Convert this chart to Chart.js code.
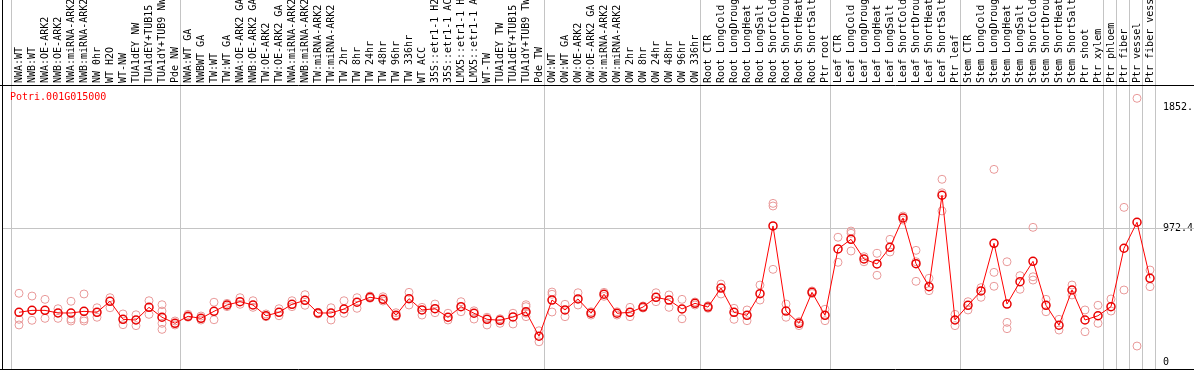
<!DOCTYPE html>
<html>
<head>
<meta charset="utf-8">
<script src="https://cdn.jsdelivr.net/npm/chart.js"></script>
<style>
    html, body { margin: 0; padding: 0; background: #fff; }
    #wrap { width: 1194px; height: 370px; }
</style>
</head>
<body>
<div id="wrap"><canvas id="expression-chart" width="1194" height="370"></canvas></div>
<script>
// Gene shown in the plot
const geneId = 'Potri.001G015000';

// Sample names (x axis, drawn rotated along the top)
const sampleLabels = [
    'NWA:WT', 'NWB:WT', 'NWA:OE-ARK2', 'NWB:OE-ARK2', 'NWA:miRNA-ARK2', 'NWB:miRNA-ARK2',
    'NW 0hr', 'WT H2O', 'WT-NW', 'TUA1dEY NW', 'TUA1dEY+TUB15', 'TUA1dY+TUB9 NW', 'Pde NW',
    'NWA:WT GA', 'NWBWT GA', 'TW:WT', 'TW:WT GA', 'NWA:OE-ARK2 GA', 'NWB:OE-ARK2 GA',
    'TW:OE-ARK2', 'TW:OE-ARK2 GA', 'NWA:miRNA-ARK2', 'NWB:miRNA-ARK2', 'TW:miRNA-ARK2', 'TW:miRNA-ARK2',
    'TW 2hr', 'TW 8hr', 'TW 24hr', 'TW 48hr', 'TW 96hr', 'TW 336hr', 'WT ACC',
    '35S::etr1-1 H2O', '35S::etr1-1 ACC', 'LMX5::etr1-1 H2O', 'LMX5::etr1-1 ACC',
    'WT-TW', 'TUA1dEY TW', 'TUA1dEY+TUB15', 'TUA1dY+TUB9 TW', 'Pde TW',
    'OW:WT', 'OW:WT GA', 'OW:OE-ARK2', 'OW:OE-ARK2 GA', 'OW:miRNA-ARK2', 'OW:miRNA-ARK2',
    'OW 2hr', 'OW 8hr', 'OW 24hr', 'OW 48hr', 'OW 96hr', 'OW 336hr',
    'Root CTR', 'Root LongCold', 'Root LongDrought', 'Root LongHeat', 'Root LongSalt',
    'Root ShortCold', 'Root ShortDrought', 'Root ShortHeat', 'Root ShortSalt', 'Ptr root',
    'Leaf CTR', 'Leaf LongCold', 'Leaf LongDrought', 'Leaf LongHeat', 'Leaf LongSalt',
    'Leaf ShortCold', 'Leaf ShortDrought', 'Leaf ShortHeat', 'Leaf ShortSalt', 'Ptr leaf',
    'Stem CTR', 'Stem LongCold', 'Stem LongDrought', 'Stem LongHeat', 'Stem LongSalt',
    'Stem ShortCold', 'Stem ShortDrought', 'Stem ShortHeat', 'Stem ShortSalt', 'Ptr shoot',
    'Ptr xylem', 'Ptr phloem', 'Ptr fiber', 'Ptr vessel', 'Ptr fiber vessel'
];

// Mean expression per sample (red line)
const meanValues = [
    361, 375, 375, 356, 356, 368, 361, 441, 310, 305, 397, 325, 281,
    332, 317, 368, 414, 438, 414, 336, 361, 419, 448, 356, 356, 385, 434, 470, 455, 339,
    460, 378, 387, 325, 402, 354, 310, 303, 327, 365, 187,
    450, 378, 458, 354, 492, 354, 361, 399, 470, 450, 385, 426,
    399, 537, 361, 339, 496, 988, 370, 281, 506, 339,
    821, 891, 748, 712, 833, 1046, 714, 547, 1211, 305,
    412, 516, 862, 421, 583, 731, 412, 267, 523, 305, 336, 402, 826, 1015, 608
];

// Individual replicate values per sample (pink circles)
const replicateValues = [
    [499, 310, 269], [479, 303], [455, 317], [387, 317], [441, 312, 298], [494, 312, 298],
    [394, 325], [467, 394], [349, 271], [343, 264], [445, 346], [416, 370, 281, 237], [298, 269],
    [346, 325], [334, 305], [434, 307], [426, 402], [467, 419], [445, 397], [349, 329], [387, 336],
    [445, 402], [489, 412], [361, 349], [394, 305], [445, 354], [467, 390], [479, 463], [474, 443],
    [358, 329], [506, 414], [397, 341], [421, 358], [354, 305], [438, 365], [372, 312], [325, 269],
    [314, 281], [354, 276], [416, 402, 354, 329], [227, 147],
    [508, 492, 363], [419, 329], [503, 414], [365, 341], [506, 477], [365, 341], [397, 329],
    [407, 392], [503, 438], [487, 397], [455, 314], [436, 414],
    [409, 390], [566, 494], [390, 310], [378, 300], [559, 450], [1152, 1133, 673], [421, 325],
    [293, 264], [516, 497], [383, 300],
    [906, 724], [951, 935, 806], [765, 728], [789, 630], [891, 799], [1060, 1031], [811, 728, 586],
    [608, 518], [1327, 1229, 1097], [346, 264],
    [438, 378], [540, 470], [1399, 651, 550], [728, 288, 242], [627, 528], [978, 619, 595],
    [455, 365], [310, 232], [559, 487], [378, 220], [412, 281], [458, 370], [1123, 523],
    [1915, 116], [668, 547]
];

// First sample index of each experiment block (grey separators)
const groupStarts = [0, 13, 41, 53, 63, 73, 84, 85, 86, 87, 88];

// Right-hand axis ticks
const yTickValues = [0, 972.4, 1852];
const yTickLabels = ['0', '972.4', '1852.'];
const yMin = -50.8;
const yMax = 2004.4;

const monoFont = "'DejaVu Sans Mono', 'Liberation Mono', monospace";

/**
 * Draws the frame, experiment separators, mid grid line and gene name
 */
const framePlugin = {
    id: 'frame',
    beforeDatasetsDraw(chart) {
        const ctx = chart.ctx;
        const xScale = chart.scales.x;
        const yScale = chart.scales.y;
        ctx.save();
        ctx.strokeStyle = '#c4c4c4';
        ctx.lineWidth = 1;
        groupStarts.forEach(function(start) {
            const px = Math.floor(xScale.getPixelForValue(start - 0.5)) - 0.5;
            ctx.beginPath();
            ctx.moveTo(px, 0);
            ctx.lineTo(px, chart.chartArea.bottom);
            ctx.stroke();
        });
        const py = Math.round(yScale.getPixelForValue(yTickValues[1])) + 0.5;
        ctx.beginPath();
        ctx.moveTo(2, py);
        ctx.lineTo(chart.width, py);
        ctx.stroke();
        ctx.restore();
    },
    afterDraw(chart) {
        const ctx = chart.ctx;
        const area = chart.chartArea;
        ctx.save();
        ctx.strokeStyle = '#000';
        ctx.lineWidth = 1;
        ctx.beginPath();
        ctx.moveTo(0, area.top - 0.5);
        ctx.lineTo(chart.width, area.top - 0.5);
        ctx.moveTo(0, area.bottom + 0.5);
        ctx.lineTo(chart.width, area.bottom + 0.5);
        ctx.moveTo(2.5, 0);
        ctx.lineTo(2.5, chart.height);
        ctx.stroke();

        ctx.fillStyle = '#ff0000';
        ctx.font = '10px ' + monoFont;
        ctx.textBaseline = 'middle';
        ctx.textAlign = 'left';
        ctx.fillText(geneId, 10, area.top + 11);
        ctx.restore();
    }
};

const replicatePoints = [];
replicateValues.forEach(function(reps, i) {
    reps.forEach(function(v) {
        replicatePoints.push({ x: i, y: v });
    });
});

// Keep the plot area fixed: no extra room for overhanging tick labels
function clearPadding(axis) {
    axis.paddingTop = 0;
    axis.paddingBottom = 0;
    axis.paddingLeft = 0;
    axis.paddingRight = 0;
}

new Chart(document.getElementById('expression-chart'), {
    type: 'line',
    data: {
        datasets: [
            {
                label: 'Mean',
                data: meanValues.map(function(v, i) { return { x: i, y: v }; }),
                borderColor: '#ff0000',
                borderWidth: 1,
                tension: 0,
                pointRadius: 4,
                pointBorderWidth: 1.5,
                pointBorderColor: '#e80000',
                pointBackgroundColor: 'rgba(0,0,0,0)'
            },
            {
                label: 'Replicates',
                data: replicatePoints,
                showLine: false,
                pointRadius: 4,
                pointBorderWidth: 1,
                pointBorderColor: '#e99a9a',
                pointBackgroundColor: 'rgba(0,0,0,0)'
            }
        ]
    },
    options: {
        responsive: false,
        animation: false,
        devicePixelRatio: 1,
        layout: { autoPadding: false, padding: { left: 12.5, right: 0, top: 0, bottom: 1 } },
        plugins: {
            legend: { display: false },
            tooltip: { enabled: false }
        },
        scales: {
            x: {
                type: 'linear',
                position: 'top',
                min: -0.5,
                max: sampleLabels.length - 0.5,
                afterBuildTicks: function(axis) {
                    axis.ticks = sampleLabels.map(function(_, i) { return { value: i }; });
                },
                afterFit: function(axis) {
                    axis.height = 86;
                    clearPadding(axis);
                },
                grid: { display: false, drawTicks: false },
                border: { display: false },
                ticks: {
                    autoSkip: false,
                    minRotation: 90,
                    maxRotation: 90,
                    padding: 3,
                    labelOffset: 12,
                    color: '#000',
                    font: { family: monoFont, size: 10 },
                    callback: function(value, index) { return sampleLabels[index]; }
                }
            },
            y: {
                type: 'linear',
                position: 'right',
                min: yMin,
                max: yMax,
                afterBuildTicks: function(axis) {
                    axis.ticks = yTickValues.map(function(v) { return { value: v }; });
                },
                afterFit: function(axis) {
                    axis.width = 37.5;
                    clearPadding(axis);
                },
                grid: { display: false, drawTicks: false },
                border: { display: false },
                ticks: {
                    padding: 6.5,
                    color: '#000',
                    font: { family: monoFont, size: 10 },
                    callback: function(value, index) { return yTickLabels[index]; }
                }
            }
        }
    },
    plugins: [framePlugin]
});
</script>
</body>
</html>
